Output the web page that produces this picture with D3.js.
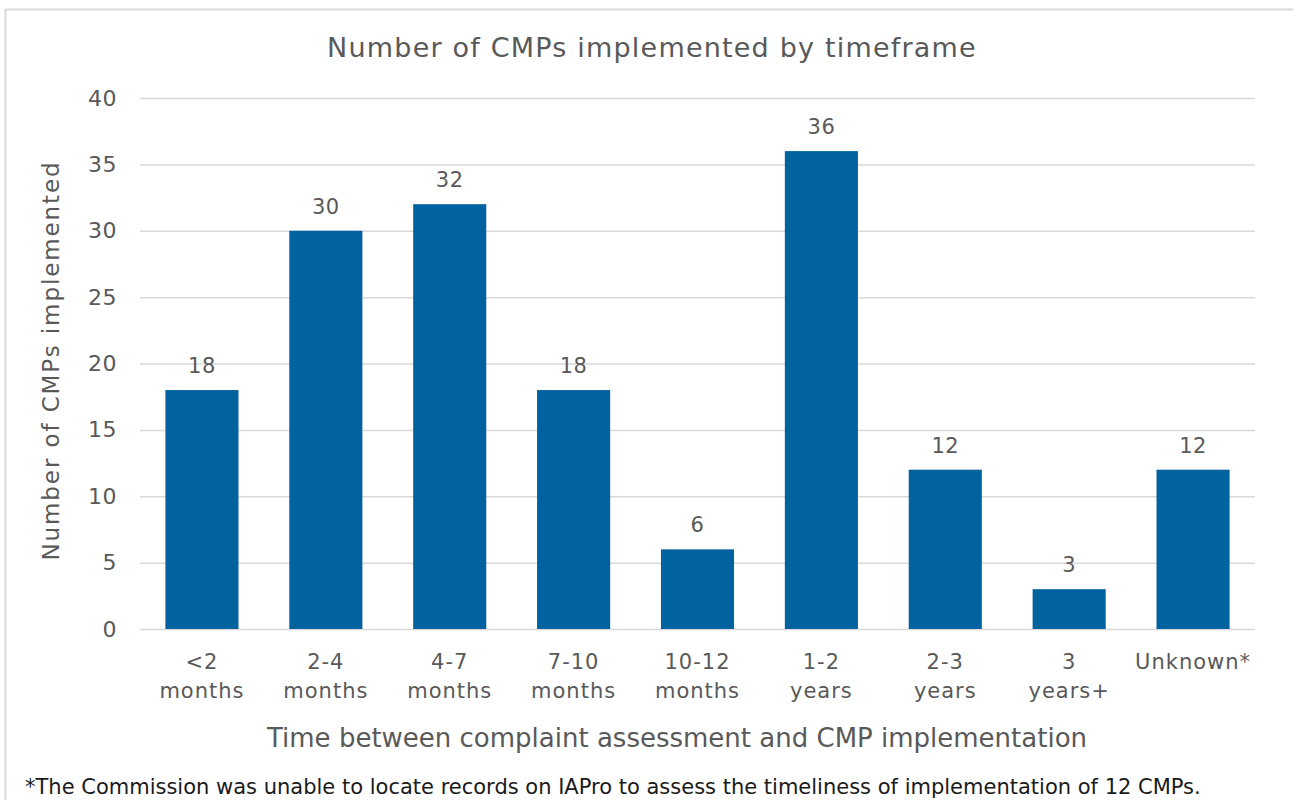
<!DOCTYPE html>
<html>
<head>
<meta charset="utf-8">
<script src="https://cdn.jsdelivr.net/npm/d3@7"></script>
<style>
  body { margin: 0; background: #fff; }
  text { font-family: "DejaVu Sans", sans-serif; }
</style>
</head>
<body>
<div id="chart"></div>
<script>
// data
var categories = ["<2 months", "2-4 months", "4-7 months", "7-10 months", "10-12 months",
                  "1-2 years", "2-3 years", "3 years+", "Unknown*"];
// how each category label wraps onto two lines
var catLines = [["<2", "months"], ["2-4", "months"], ["4-7", "months"], ["7-10", "months"],
                ["10-12", "months"], ["1-2", "years"], ["2-3", "years"], ["3", "years+"], ["Unknown*"]];
var values = [18, 30, 32, 18, 6, 36, 12, 3, 12];
var yTicks = [0, 5, 10, 15, 20, 25, 30, 35, 40];

var width = 1293, height = 800;
var margin = {top: 98, right: 38, bottom: 171, left: 140};
var grey = "#595959";
var barColor = "#0063a0";

var svg = d3.select("#chart").append("svg")
    .attr("width", width)
    .attr("height", height);

// outer frame of the chart
svg.append("rect")
    .attr("x", 5.5).attr("y", 9.5)
    .attr("width", width + 10).attr("height", height)
    .attr("fill", "none")
    .attr("stroke", "#d9d9d9")
    .attr("stroke-width", 2);

var g = svg.append("g")
    .attr("transform", "translate(" + margin.left + "," + margin.top + ")");

var w = width - margin.left - margin.right;
var h = height - margin.top - margin.bottom;

var x = d3.scaleBand()
    .domain(categories)
    .range([0, w])
    .paddingInner(0.41)
    .paddingOuter(0.205);

var y = d3.scaleLinear()
    .domain([0, 40])
    .range([h, 0]);

// gridlines + tick labels
var yAxis = g.append("g")
    .call(d3.axisLeft(y).tickValues(yTicks).tickSize(-w).tickPadding(23));
yAxis.select(".domain").remove();
yAxis.selectAll(".tick line").attr("stroke", "#d9d9d9").attr("stroke-width", 1.5);
yAxis.selectAll(".tick text")
    .attr("fill", grey)
    .style("font-size", "22px")
    .style("letter-spacing", "0.5px");

g.selectAll(".bar")
    .data(values)
    .enter().append("rect")
    .attr("class", "bar")
    .attr("x", function(d, i) { return x(categories[i]); })
    .attr("y", function(d) { return y(d); })
    .attr("width", x.bandwidth())
    .attr("height", function(d) { return h - y(d); })
    .attr("fill", barColor);

g.selectAll(".val")
    .data(values)
    .enter().append("text")
    .attr("class", "val")
    .attr("x", function(d, i) { return x(categories[i]) + x.bandwidth() / 2; })
    .attr("y", function(d) { return y(d) - 17; })
    .attr("text-anchor", "middle")
    .attr("fill", grey)
    .style("font-size", "21px")
    .style("letter-spacing", "0.5px")
    .text(function(d) { return d; });

// category labels, two lines each
var cat = g.selectAll(".cat")
    .data(catLines)
    .enter().append("text")
    .attr("class", "cat")
    .attr("text-anchor", "middle")
    .attr("fill", grey)
    .style("font-size", "21px")
    .style("letter-spacing", "1px")
    .attr("transform", function(d, i) {
      return "translate(" + (x(categories[i]) + x.bandwidth() / 2) + "," + (h + 40) + ")";
    });
cat.selectAll("tspan")
    .data(function(d) { return d; })
    .enter().append("tspan")
    .attr("x", 0)
    .attr("dy", function(d, i) { return i ? 29 : 0; })
    .text(function(d) { return d; });

// titles
svg.append("text")
    .attr("x", 652).attr("y", 57)
    .attr("text-anchor", "middle")
    .attr("fill", grey)
    .style("font-size", "27px")
    .style("letter-spacing", "1.2px")
    .text("Number of CMPs implemented by timeframe");

svg.append("text")
    .attr("transform", "translate(59," + (margin.top + h / 2 - 3) + ") rotate(-90)")
    .attr("text-anchor", "middle")
    .attr("fill", grey)
    .style("font-size", "23px")
    .style("letter-spacing", "1.9px")
    .text("Number of CMPs implemented");

svg.append("text")
    .attr("x", 677).attr("y", 747)
    .attr("text-anchor", "middle")
    .attr("fill", grey)
    .style("font-size", "26px")
    .text("Time between complaint assessment and CMP implementation");

svg.append("text")
    .attr("x", 25).attr("y", 794)
    .attr("fill", "#1a1a1a")
    .style("font-size", "21px")
    .text("*The Commission was unable to locate records on IAPro to assess the timeliness of implementation of 12 CMPs.");
</script>
</body>
</html>
